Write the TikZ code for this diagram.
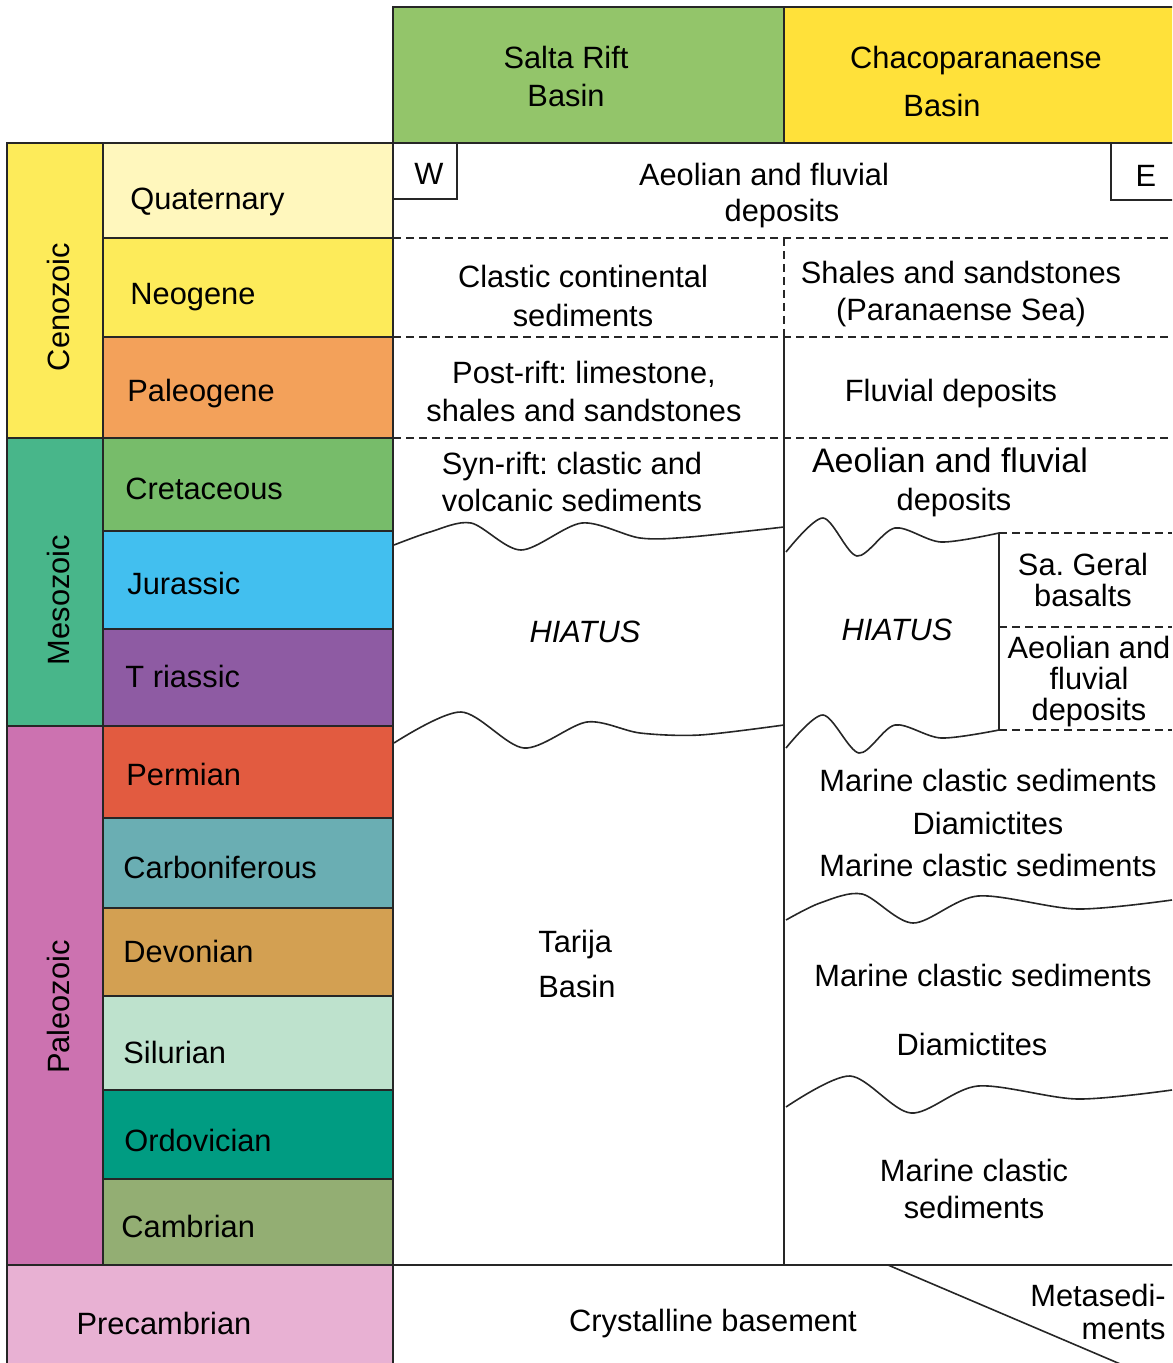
\documentclass[tikz,border=0pt]{standalone}
\usepackage{fontspec}
\setmainfont{Liberation Sans}
\frenchspacing
\definecolor{saltagreen}{RGB}{147,197,106}
\definecolor{chacoyellow}{RGB}{255,225,58}
\definecolor{quatcol}{RGB}{255,247,189}
\definecolor{neogcol}{RGB}{253,235,90}
\definecolor{paleogcol}{RGB}{243,161,90}
\definecolor{cretcol}{RGB}{119,188,106}
\definecolor{jurcol}{RGB}{66,191,239}
\definecolor{triascol}{RGB}{142,91,163}
\definecolor{permcol}{RGB}{226,91,64}
\definecolor{carbcol}{RGB}{106,174,179}
\definecolor{devcol}{RGB}{211,160,82}
\definecolor{silcol}{RGB}{190,226,205}
\definecolor{ordcol}{RGB}{0,156,130}
\definecolor{cambcol}{RGB}{147,174,115}
\definecolor{precamcol}{RGB}{232,177,211}
\definecolor{cenocol}{RGB}{253,235,90}
\definecolor{mesocol}{RGB}{72,182,138}
\definecolor{paleozcol}{RGB}{204,114,176}

\begin{document}
\begin{tikzpicture}[x=0.5pt, y=-0.5pt,
        lbl/.style={font=\fontsize{15.4}{#1}\selectfont, align=center, inner sep=0pt, yshift=-1.5pt},
        lbl/.default=19,
        eralbl/.style={font=\fontsize{15.4}{19}\selectfont, inner sep=0pt, rotate=90},
        box/.style={draw=black!85, line width=1pt},
        bound/.style={black!85, line width=0.8pt, dash pattern=on 4pt off 2.5pt},
        unconf/.style={black!85, line width=0.8pt}]
        % Page frame
        \clip (0,0) rectangle (1172,1363);

        % Basin headers
        \draw[box, fill=saltagreen] (393,7) rectangle (784,143);
        \draw[box, fill=chacoyellow] (784,7) rectangle (1180,143);
        \node[lbl] (salta) at (566,73) {Salta Rift\\Basin};
        \node[lbl] (chaco) at (976,58) {Chacoparanaense};
        \node[lbl] (chacobasin) at (942,102) {Basin};

        % Periods
        \foreach \yt/\yb/\ly/\lx/\name/\col [count=\i] in {
            143/238/199/130/Quaternary/quatcol,
            238/337/294/130/Neogene/neogcol,
            337/438/391/127/Paleogene/paleogcol,
            438/531/489/125/Cretaceous/cretcol,
            531/629/584/127/Jurassic/jurcol,
            629/726/677/125/T riassic/triascol,
            726/818/775/126/Permian/permcol,
            818/908/868/123/Carboniferous/carbcol,
            908/996/952/123/Devonian/devcol,
            996/1090/1053/123/Silurian/silcol,
            1090/1179/1141/124/Ordovician/ordcol,
            1179/1265/1227/121/Cambrian/cambcol} {
            \draw[box, fill=\col] (103,\yt) rectangle (393,\yb);
            \node[lbl, anchor=west, text height=11pt, text depth=3.2pt] (period\i) at (\lx,\ly) {\name};
        }

        % Eras
        \foreach \yt/\yb/\ly/\name/\col [count=\i] in {
            143/438/307/Cenozoic/cenocol,
            438/726/600/Mesozoic/mesocol,
            726/1265/1007/Paleozoic/paleozcol} {
            \draw[box, fill=\col] (7,\yt) rectangle (103,\yb);
            \node[eralbl] (era\i) at (58,\ly) {\name};
        }
        \draw[box, fill=precamcol] (7,1265) rectangle (393,1380);
        \node[lbl] (precam) at (164,1320) {Precambrian};

        % Basin columns
        \draw[box] (393,143) -- (393,1380);
        \draw[box] (393,1265) -- (1180,1265);
        \draw[box] (784,337) -- (784,1265);
        \draw[bound] (784,238) -- (784,337);
        \foreach \y in {238,337,438}
            \draw[bound] (393,\y) -- (1172,\y);

        % W and E
        \draw[box, fill=white] (393,143) rectangle (457,199);
        \node[lbl] (west) at (429,171) {W};
        \draw[box, fill=white] (1111,143) rectangle (1180,200);
        \node[lbl] (east) at (1146,173) {E};

        % Serra Geral column
        \draw[box] (999,533) -- (999,730);
        \foreach \y in {533,627,730}
            \draw[bound] (999,\y) -- (1172,\y);

        % Unconformities
        \draw[unconf] plot[smooth] coordinates {
            (394,545) (430,532) (471,523) (521,550) (582,523) (640,538) (690,537) (784,527)};
        \draw[unconf] plot[smooth] coordinates {
            (394,743) (461,712) (524,748) (587,722) (640,733) (700,735) (784,725)};
        \draw[unconf] plot[smooth] coordinates {
            (786,552) (823,518) (857,556) (895,528) (941,542) (999,533)};
        \draw[unconf] plot[smooth] coordinates {
            (786,748) (823,715) (859,753) (895,725) (941,738) (999,730)};
        \draw[unconf] plot[smooth] coordinates {
            (786,920) (820,903) (862,894) (913,923) (978,896) (1077,909) (1172,900)};
        \draw[unconf] plot[smooth] coordinates {
            (786,1107) (850,1076) (911,1113) (978,1086) (1077,1099) (1172,1090)};
        \draw[unconf] (888,1265) -- (1125,1366);

        % Salta Rift column
        \node[lbl] (aeolw) at (764,171) {Aeolian and fluvial};
        \node[lbl] (aeolwb) at (782,211) {deposits};
        \node[lbl=19.5] (clastic) at (583,293) {Clastic continental\\sediments};
        \node[lbl] (postrift) at (584,388) {Post-rift: limestone,\\shales and sandstones};
        \node[lbl=18.5] (synrift) at (572,479) {Syn-rift: clastic and\\volcanic sediments};
        \node[lbl] (hiatusw) at (585,629) {\itshape HIATUS};
        \node[lbl=22.5, align=left, anchor=west] (tarija) at (538,961) {Tarija\\Basin};

        % Chacoparanaense column
        \node[lbl=18.5] (shales) at (961,291) {Shales and sandstones\\(Paranaense Sea)};
        \node[lbl] (fluvial) at (951,391) {Fluvial deposits};
        \node[lbl, font=\fontsize{17}{20}\selectfont] (aeole) at (950,457) {Aeolian and fluvial};
        \node[lbl] (aeoleb) at (954,500) {deposits};
        \node[lbl] (hiatuse) at (897,627) {\itshape HIATUS};
        \node[lbl=15.5] (basalt) at (1083,577) {Sa. Geral\\basalts};
        \node[lbl=15.5] (aeolsg) at (1089,679) {Aeolian and\\fluvial\\deposits};
        \node[lbl=21.25] (marine1) at (988,820) {Marine clastic sediments\\Diamictites\\Marine clastic sediments};
        \node[lbl] (marine2) at (983,972) {Marine clastic sediments};
        \node[lbl] (diamict) at (972,1041) {Diamictites};
        \node[lbl=18.5] (marine3) at (974,1186) {Marine clastic\\sediments};

        % Basement
        \node[lbl] (basement) at (713,1321) {Crystalline basement};
        \node[lbl=16.5, align=right, anchor=east] (metased) at (1166,1309) {Metasedi-\\ments};
    \end{tikzpicture}
\end{document}
